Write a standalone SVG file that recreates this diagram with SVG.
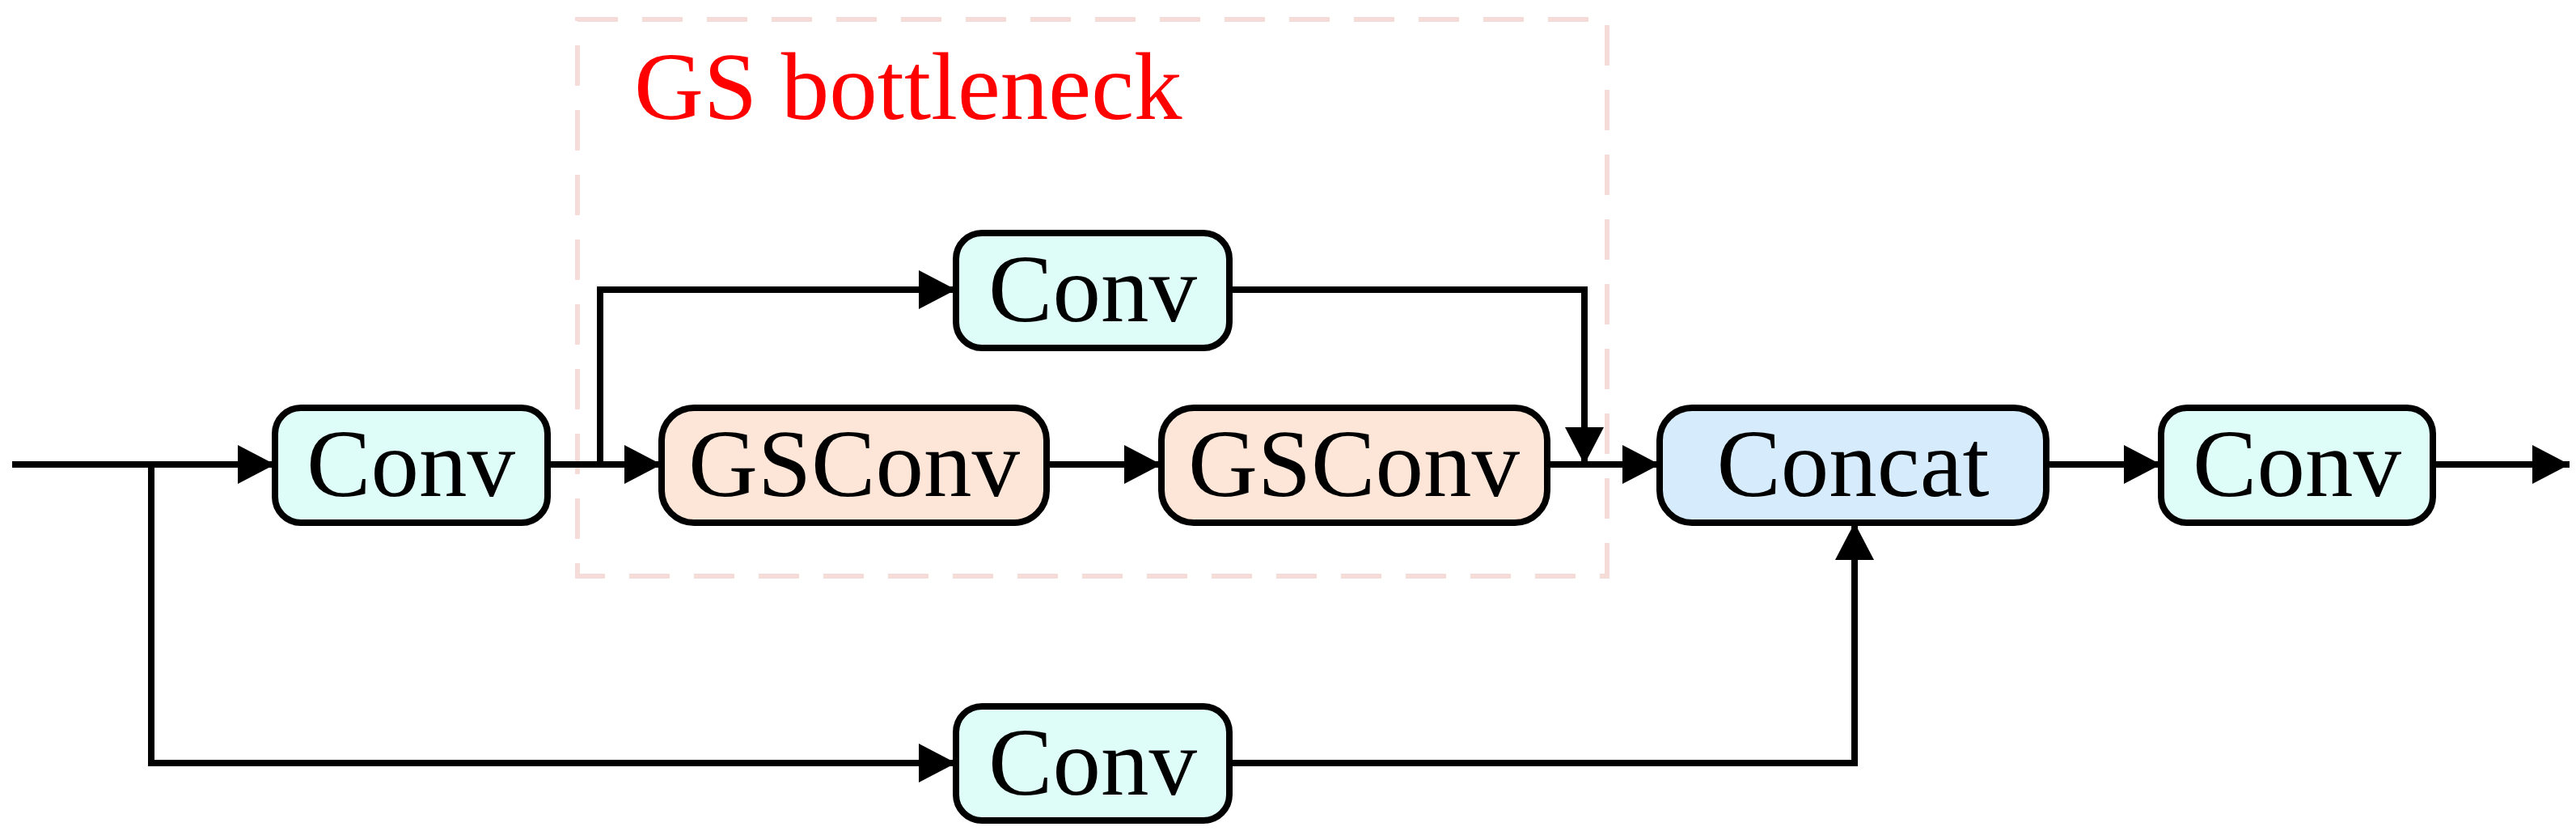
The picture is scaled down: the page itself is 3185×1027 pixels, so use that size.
<svg xmlns="http://www.w3.org/2000/svg" width="3185" height="1027" viewBox="0 0 3185 1027">
<style>
.n rect{stroke:#000;stroke-width:8}
.c{fill:#dffdf8}.g{fill:#fde5d8}.b{fill:#d6ecfd}
text{font-family:"Liberation Serif",serif;font-size:119px;text-anchor:middle}
#edges path{fill:none;stroke:#000;stroke-width:8}
</style>
<defs>
<marker id="a" markerUnits="userSpaceOnUse" markerWidth="46" markerHeight="48" refX="46" refY="24" orient="auto">
<path d="M0,0 L46,24 L0,48 Z" fill="#000"/>
</marker>
</defs>
<rect x="714" y="24" width="1273" height="688" fill="none" stroke="#f6dcd9" stroke-width="6" stroke-dasharray="50,30"/>
<text x="784" y="147" fill="#ff0000" style="text-anchor:start">GS bottleneck</text>
<g id="edges">
<path d="M15,574 H340" marker-end="url(#a)"/>
<path d="M187,574 V943 H1182" marker-end="url(#a)"/>
<path d="M677,574 H818" marker-end="url(#a)"/>
<path d="M742,574 V358 H1182" marker-end="url(#a)"/>
<path d="M1294,574 H1436" marker-end="url(#a)"/>
<path d="M1913,574 H2052" marker-end="url(#a)"/>
<path d="M1520,358 H1959 V574" marker-end="url(#a)"/>
<path d="M1520,943 H2293 V646" marker-end="url(#a)"/>
<path d="M2530,574 H2672" marker-end="url(#a)"/>
<path d="M3008,574 H3177" marker-end="url(#a)"/>
</g>
<g id="conv1" class="n"><rect class="c" x="340" y="504" width="337" height="142" rx="32"/><text x="508" y="613">Conv</text></g>
<g id="gsconv1" class="n"><rect class="g" x="818" y="504" width="476" height="142" rx="40"/><text x="1056" y="613">GSConv</text></g>
<g id="gsconv2" class="n"><rect class="g" x="1436" y="504" width="477" height="142" rx="40"/><text x="1674" y="613">GSConv</text></g>
<g id="convtop" class="n"><rect class="c" x="1182" y="288" width="338" height="142" rx="32"/><text x="1351" y="397">Conv</text></g>
<g id="convbot" class="n"><rect class="c" x="1182" y="873" width="338" height="141" rx="32"/><text x="1351" y="982">Conv</text></g>
<g id="concat" class="n"><rect class="b" x="2052" y="504" width="478" height="142" rx="40"/><text x="2291" y="613">Concat</text></g>
<g id="convout" class="n"><rect class="c" x="2672" y="504" width="336" height="142" rx="32"/><text x="2840" y="613">Conv</text></g>
</svg>
